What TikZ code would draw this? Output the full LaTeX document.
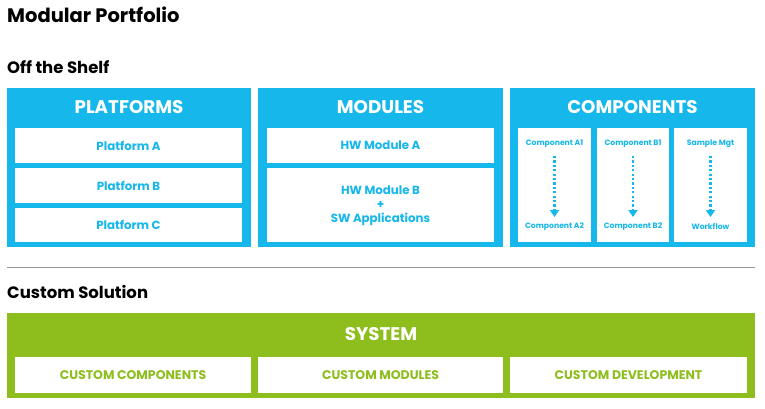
\documentclass[tikz,border=0pt]{standalone}
\usepackage{fontspec}
\setmainfont{Poppins}
\usetikzlibrary{arrows.meta}
\definecolor{cblue}{RGB}{22,183,234}
\definecolor{cgreen}{RGB}{141,190,30}
\definecolor{cgray}{RGB}{150,150,150}
\begin{document}
\begin{tikzpicture}[x=1pt,y=-1pt,
  panel/.style={fill=cblue,draw=none},
  gpanel/.style={fill=cgreen,draw=none},
  wbox/.style={fill=white,draw=none},
  ptitle/.style={text=white,font=\bfseries\fontsize{18.3}{20}\selectfont},
  heading/.style={anchor=base west,font=\bfseries\fontsize{16.5}{20}\selectfont,inner sep=0},
  itxt/.style={text=cblue,font=\bfseries\fontsize{11.8}{14}\selectfont,align=center},
  ctxt/.style={text=cblue,font=\bfseries\fontsize{7.7}{9}\selectfont},
  gtxt/.style={text=cgreen,font=\bfseries\fontsize{12.5}{14}\selectfont},
  darrow/.style={draw=cblue,line width=2.8pt,dash pattern=on 2.2pt off 2.2pt,-{Triangle[width=9pt,length=7pt]}}
]
\useasboundingbox (0,0) rectangle (765,408);
\fill[white] (0,0) rectangle (765,408);
% headings
\node[heading,font=\bfseries\fontsize{19.5}{24}\selectfont] (t1) at (7,22.5) {Modular Portfolio};
\node[heading] (t2) at (7,73.5) {Off the Shelf};
\node[heading] (t3) at (7,298.5) {Custom Solution};
% panels
\fill[panel] (7,88) rectangle (251,247);
\fill[panel] (258,88) rectangle (503,247);
\fill[panel] (510,88) rectangle (755,247);
\node[ptitle] (p1) at (129,107) {PLATFORMS};
\node[ptitle] (p2) at (380.5,107) {MODULES};
\node[ptitle] (p3) at (632.5,107) {COMPONENTS};
% platforms
\fill[wbox] (15,128) rectangle (242,163);
\fill[wbox] (15,168) rectangle (242,203);
\fill[wbox] (15,208) rectangle (242,242);
\node[itxt] (pa) at (128.5,145.5) {Platform A};
\node[itxt] (pb) at (128.5,185.5) {Platform B};
\node[itxt] (pc) at (128.5,225) {Platform C};
% modules
\fill[wbox] (267,128) rectangle (494,163);
\fill[wbox] (267,168) rectangle (494,242);
\node[itxt] (ma) at (380.5,145.5) {HW Module A};
\node[itxt] (mb) at (380.5,205.5) {HW Module B\\+\\SW Applications};
% components
\fill[wbox] (518,128) rectangle (591,242);
\fill[wbox] (597,128) rectangle (669,242);
\fill[wbox] (674,128) rectangle (747,242);
\node[ctxt] (ca1) at (554.5,143.5) {Component A1};
\node[ctxt] (ca2) at (554.5,227) {Component A2};
\node[ctxt] (cb1) at (633,143.5) {Component B1};
\node[ctxt] (cb2) at (633,227) {Component B2};
\node[ctxt] (cc1) at (710.5,143.5) {Sample Mgt};
\node[ctxt] (cc2) at (710.5,227) {Workflow};
\coordinate (aa1) at (554.5,156);
\coordinate (aa2) at (554.5,217);
\coordinate (ab1) at (633,156);
\coordinate (ab2) at (633,217);
\coordinate (ac1) at (710.5,156);
\coordinate (ac2) at (710.5,217);
\draw[darrow] (aa1) -- (aa2);
\draw[darrow] (ab1) -- (ab2);
\draw[darrow] (ac1) -- (ac2);
% separator
\draw[cgray,line width=1pt] (7,267) -- (755,267);
% system
\fill[gpanel] (7,313) rectangle (755,398);
\node[ptitle] (sys) at (381,334) {SYSTEM};
\fill[wbox] (15,357) rectangle (251,393);
\fill[wbox] (258,357) rectangle (503,393);
\fill[wbox] (510,357) rectangle (747,393);
\node[gtxt] (g1) at (133,375.5) {CUSTOM COMPONENTS};
\node[gtxt] (g2) at (380.5,375.5) {CUSTOM MODULES};
\node[gtxt] (g3) at (628.5,375.5) {CUSTOM DEVELOPMENT};
\end{tikzpicture}
\end{document}
